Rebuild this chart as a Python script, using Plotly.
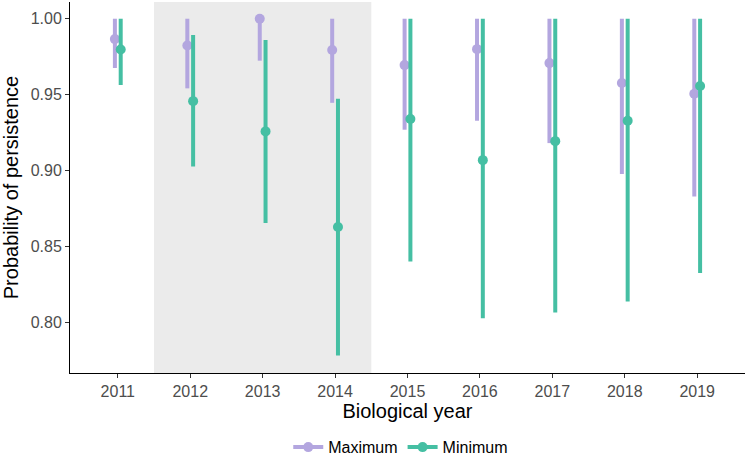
import numpy as np
import plotly.graph_objects as go

years = [2011, 2012, 2013, 2014, 2015, 2016, 2017, 2018, 2019]
max_est = [0.9866, 0.9824, 1.000, 0.9794, 0.9695, 0.9800, 0.9708, 0.9577, 0.9507]
max_lo = [0.9676, 0.9542, 0.9724, 0.9447, 0.9270, 0.9329, 0.9182, 0.8978, 0.8831]
max_hi = [1.0, 1.0, 1.0, 1.0, 1.0, 1.0, 1.0, 1.0, 1.0]
min_est = [0.9798, 0.9458, 0.9259, 0.8630, 0.9340, 0.9070, 0.9195, 0.9329, 0.9557]
min_lo = [0.9564, 0.9028, 0.8656, 0.7785, 0.8403, 0.8030, 0.8068, 0.8140, 0.8327]
min_hi = [1.0, 0.9893, 0.9860, 0.9474, 1.0, 1.0, 1.0, 1.0, 1.0]
shade_years = [2012, 2014]
y_ticks = [0.80, 0.85, 0.90, 0.95, 1.00]

C_MAX = "#B3A6DF"
C_MIN = "#45BFA3"
dodge = 0.04

fig = go.Figure()

def add_series(name, color, est, lo, hi, off):
    xs = np.array(years, dtype=float) + off
    lx, ly = [], []
    for x, a, b in zip(xs, lo, hi):
        lx += [x, x, None]
        ly += [a, b, None]
    fig.add_trace(go.Scatter(x=lx, y=ly, mode="lines", line=dict(color=color, width=4),
                             showlegend=False, hoverinfo="skip"))
    fig.add_trace(go.Scatter(x=xs, y=est, mode="markers", marker=dict(color=color, size=10),
                             showlegend=False, name=name))
    fig.add_trace(go.Scatter(x=[None], y=[None], mode="lines+markers", name=name,
                             line=dict(color=color, width=4), marker=dict(color=color, size=10)))

add_series("Maximum", C_MAX, max_est, max_lo, max_hi, -dodge)
add_series("Minimum", C_MIN, min_est, min_lo, min_hi, dodge)

fig.add_shape(type="rect", xref="x", yref="paper", x0=shade_years[0] - 0.5, x1=shade_years[1] + 0.5,
              y0=0, y1=1, fillcolor="#EBEBEB", line=dict(width=0), layer="below")

fig.update_layout(
    width=749, height=465,
    margin=dict(l=70, r=4, t=2, b=92, autoexpand=False),
    plot_bgcolor="white", paper_bgcolor="white",
    font=dict(family="Arial, Liberation Sans, sans-serif", color="black"),
    xaxis=dict(
        range=[2010.34, 2019.66], tickmode="array", tickvals=years, ticktext=[str(y) for y in years],
        showgrid=False, zeroline=False, showline=True, linecolor="black", linewidth=1,
        ticks="outside", ticklen=4, tickcolor="#333333",
        tickfont=dict(size=16, color="#4D4D4D"),
        title=dict(text="Biological year", font=dict(size=20, color="black"), standoff=2),
    ),
    yaxis=dict(
        range=[0.767, 1.011], tickmode="array", tickvals=y_ticks,
        ticktext=[f"{v:.2f}" for v in y_ticks],
        showgrid=False, zeroline=False, showline=True, linecolor="black", linewidth=1,
        ticks="outside", ticklen=4, tickcolor="#333333",
        tickfont=dict(size=16, color="#4D4D4D"),
        title=dict(text="Probability of persistence", font=dict(size=20, color="black"), standoff=8),
    ),
    legend=dict(orientation="h", x=0.49, xanchor="center", y=-0.2, yanchor="middle",
                font=dict(size=16, color="black")),
)

fig.write_html("out.html")
